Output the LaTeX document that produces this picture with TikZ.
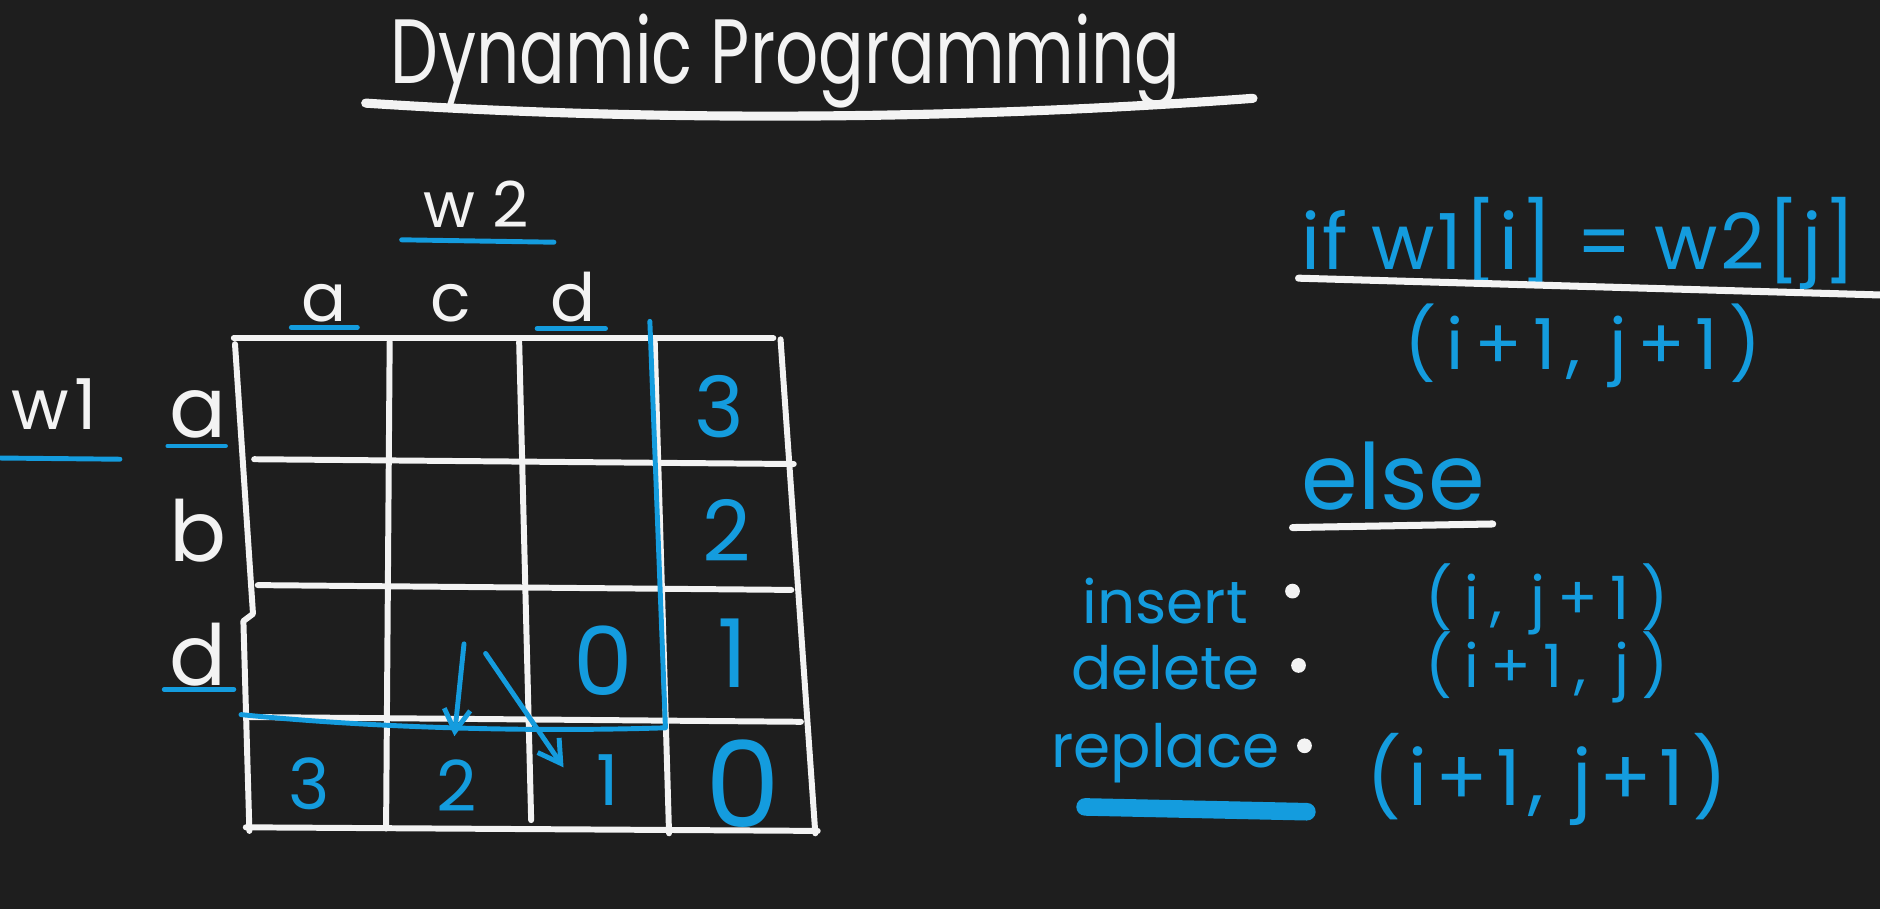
\documentclass[tikz,border=0pt]{standalone}
\usepackage{fontspec}
\setmainfont{Poppins}
\usepackage{tikz}
\usetikzlibrary{positioning,arrows.meta,calc}
\definecolor{board}{RGB}{30,30,30}
\definecolor{inkblue}{RGB}{20,156,222}
\definecolor{chalk}{RGB}{243,243,243}
\newcommand\inksize[1]{\fontsize{#1}{#1}\selectfont}
\newcommand\inkspread[1]{\addfontfeature{LetterSpace=#1}}
\tikzset{
  chalktext/.style={inner sep=0pt, text=chalk},
  inktext/.style={inner sep=0pt, text=inkblue},
  gridline/.style={draw=chalk, line width=1.7pt, line cap=round, line join=round},
  chalkline/.style={draw=chalk, line width=1.6pt, line cap=round},
  inkline/.style={draw=inkblue, line width=1.4pt, line cap=round, line join=round},
  inkarrow/.style={inkline, -{Straight Barb[length=2.2mm, width=2.6mm]}},
  dotmark/.style={circle, fill=chalk, inner sep=0pt, minimum size=4.2pt},
}
\begin{document}
\begin{tikzpicture}[x=0.012cm, y=-0.012cm]
  \fill[board] (0,0) rectangle (1568,758);
  \useasboundingbox (0,0) rectangle (1568,758);

  % title
  \node[chalktext, font=\inksize{26}, anchor=base, xscale=0.74] (title) at (655,70) {Dynamic Programming};
  \draw[chalkline, line width=2.6pt] (305,86) .. controls (550,102) and (800,100) .. (1045,82);

  % words
  \node[chalktext, font=\inksize{18}, anchor=base] (wtwo) at (397,190) {w 2};
  \draw[inkline] (335,200) -- (462,202);
  \node[chalktext, font=\inksize{20}\inkspread{8}, anchor=base] (wone) at (45,358) {w1};
  \draw[inkline] (0,382) -- (100,383);

  \foreach \x/\name/\letter in {270/ca/a, 376/cc/c, 478/cd/d}
    \node[chalktext, font=\inksize{19}, anchor=base] (\name) at (\x,268) {\letter};
  \foreach \y/\name/\letter in {365/ra/a, 468/rb/b, 572/rd/d}
    \node[chalktext, font=\inksize{24}, anchor=base] (\name) at (165,\y) {\letter};
  \draw[inkline] (243,273) -- (298,273);
  \draw[inkline] (448,274) -- (505,274);
  \draw[inkline] (140,372) -- (188,372);
  \draw[inkline] (137,575) -- (195,575);

  % table
  \foreach \xa/\ya/\xb/\yb in {195/282/645/282, 212/383/662/387, 215/488/660/492,
      205/598/668/602, 205/690/682/693, 325/285/322/691, 433/285/443/684,
      546/283/558/695, 651/283/680/695}
    \draw[gridline] (\xa,\ya) -- (\xb,\yb);
  \draw[gridline] (196,287) -- (211,512) -- (203,518) -- (208,693);

  \draw[inkline] (542,268) -- (555,607) .. controls (430,611) and (300,606) .. (201,596);

  % values
  \foreach \x/\y/\s/\name/\val in {600/365/24/ea/3, 606/468/24/eb/2, 611/573/27/ed/1,
      503/580/27/dd/0, 258/675/20/za/3, 381/677/20/zc/2, 507/672/20/zd/1, 620/690/34/zz/0}
    \node[inktext, font=\inksize{\s}, anchor=base] (\name) at (\x,\y) {\val};

  \coordinate (downtail) at (387,537);
  \coordinate (downhead) at (379,614);
  \coordinate (diagtail) at (405,545);
  \coordinate (diaghead) at (470,640);
  \draw[inkarrow] (downtail) -- (downhead);
  \draw[inkarrow] (diagtail) -- (diaghead);

  % rule
  \node[inktext, font=\inksize{22}\inkspread{3}, anchor=base west] (cond) at (1085,225) {if w1[i] = w2[j]};
  \draw[chalkline, line width=2pt] (1083,232) -- (1568,246);
  \node[inktext, font=\inksize{20}\inkspread{15}] (same) at (1320,288) {(i+1, j+1)};
  \node[inktext, font=\inksize{26}, anchor=base] (other) at (1162,425) {else};
  \draw[chalkline, line width=2pt] (1078,440) -- (1245,437);

  \foreach \y/\name/\op/\cell/\cy/\s/\sp/\dx/\dy in {520/ins/insert/{(i, j+1)}/500/17/20/1078/493,
      575/del/delete/{(i+1, j)}/557/17/20/1083/555, 640/rep/replace/{(i+1, j+1)}/650/22/10/1088/622} {
    \node[inktext, font=\inksize{17}, anchor=base] (\name) at (972,\y) {\op};
    \node[dotmark] (\name dot) at (\dx,\dy) {};
    \node[inktext, font=\inksize{\s}\inkspread{\sp}] (\name cell) at (1290,\cy) {\cell};
  }
  \draw[inkblue, line width=5pt, line cap=round] (905,673) -- (1090,677);
\end{tikzpicture}
\end{document}
